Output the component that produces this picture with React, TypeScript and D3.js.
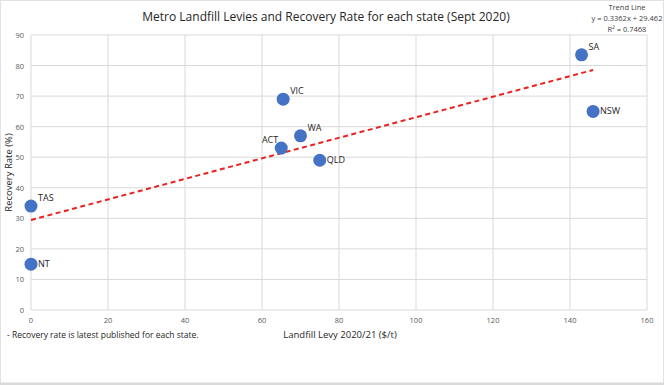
import React from 'react';
import * as d3 from 'd3';

const states = ['SA', 'NSW', 'VIC', 'WA', 'ACT', 'QLD', 'TAS', 'NT'];
const levies = [143, 146, 65.5, 70, 65, 75, 0, 0];
const recovery = [83.5, 65, 69, 57, 53, 49, 34, 15];
// label offsets: 'r' = right, 'rt' = right top, 'lt' = left top
const labelSides = ['rt', 'r', 'rt', 'rt', 'lt', 'r', 'rt', 'r'];
const xTicks = [0, 20, 40, 60, 80, 100, 120, 140, 160];
const yTicks = [0, 10, 20, 30, 40, 50, 60, 70, 80, 90];
const trendSlope = 0.3362;
const trendIntercept = 29.462;
const trendRange = [0, 146];

const W = 664;
const H = 385;
const font = "Open Sans, sans-serif";

const App = () => {
  const x = d3.scaleLinear().domain([0, 160]).range([31, 647]);
  const y = d3.scaleLinear().domain([0, 90]).range([310, 35]);
  const trend = d3.line<number>()
    .x(d => x(d))
    .y(d => y(trendSlope * d + trendIntercept));

  return (
    <svg width={W} height={H} style={{ position: 'absolute', left: 0, top: 0, background: '#fff' }}>
      <rect x={0.5} y={0.5} width={W - 1} height={H - 1} fill="#fff" stroke="#e2e2e2" />
      <rect x={0} y={H - 2.5} width={W} height={2.5} fill="#dadada" />

      {/* gridlines */}
      {yTicks.map(t => (
        <line key={'gy' + t} x1={x(0)} x2={x(160)} y1={y(t)} y2={y(t)} stroke="#d9d9d9" strokeWidth={1} />
      ))}
      {xTicks.map(t => (
        <line key={'gx' + t} x1={x(t)} x2={x(t)} y1={y(0)} y2={y(90)} stroke="#d9d9d9" strokeWidth={1} />
      ))}

      {/* tick labels */}
      {yTicks.map(t => (
        <text key={'ty' + t} x={x(0) - 7} y={y(t) + 3} textAnchor="end" fontSize={7.5} fill="#595959" fontFamily={font}>{t}</text>
      ))}
      {xTicks.map(t => (
        <text key={'tx' + t} x={x(t)} y={y(0) + 13} textAnchor="middle" fontSize={7.5} fill="#595959" fontFamily={font}>{t}</text>
      ))}

      {/* trend line */}
      <path d={trend(trendRange) || ''} fill="none" stroke="#e8231f" strokeWidth={2} strokeDasharray="5,3.5" />

      {/* points */}
      {states.map((s, i) => {
        const cx = x(levies[i]);
        const cy = y(recovery[i]);
        const side = labelSides[i];
        const lx = side === 'lt' ? cx - 3 : cx + 7;
        const ly = side === 'r' ? cy + 3 : cy - 5;
        return (
          <g key={s}>
            <circle cx={cx} cy={cy} r={6.5} fill="#4472c4" />
            <text x={lx} y={ly} textAnchor={side === 'lt' ? 'end' : 'start'} fontSize={9} fill="#262626" fontFamily={font}>{s}</text>
          </g>
        );
      })}

      {/* titles */}
      <text x={326} y={21} textAnchor="middle" fontSize={12} fill="#262626" fontFamily={font}>Metro Landfill Levies and Recovery Rate for each state (Sept 2020)</text>
      <text x={627} y={10} textAnchor="middle" fontSize={7.5} fill="#404040" fontFamily={font}>Trend Line</text>
      <text x={627} y={21} textAnchor="middle" fontSize={7.5} fill="#404040" fontFamily={font}>y = 0.3362x + 29.462</text>
      <text x={627} y={32} textAnchor="middle" fontSize={7.5} fill="#404040" fontFamily={font}>R² = 0.7468</text>
      <text transform={`translate(12, ${y(45)}) rotate(-90)`} textAnchor="middle" fontSize={9.5} fill="#262626" fontFamily={font}>Recovery Rate (%)</text>
      <text x={340} y={338} textAnchor="middle" fontSize={9.5} fill="#262626" fontFamily={font}>Landfill Levy 2020/21 ($/t)</text>
      <text x={7} y={338} fontSize={8.5} fill="#262626" fontFamily={font}>- Recovery rate is latest published for each state.</text>
    </svg>
  );
};

export default App;
